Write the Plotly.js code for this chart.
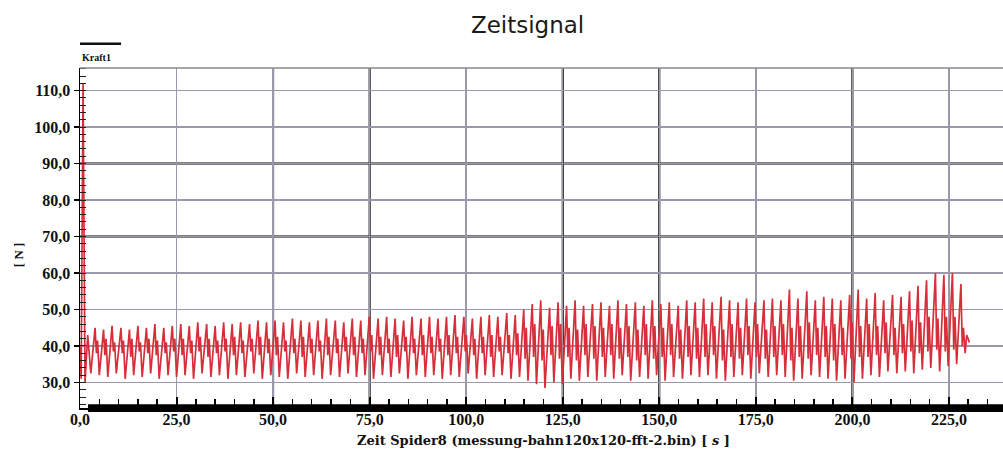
<!DOCTYPE html>
<html>
<head>
<meta charset="utf-8">
<script src="https://cdn.plot.ly/plotly-3.0.1.min.js"></script>
<style>html,body{margin:0;padding:0;background:#fff;}#chart{width:1003px;height:451px;}</style>
</head>
<body>
<div id="chart"></div>
<script>
// ---- data ----
const startTimes = [0.0, 0.3, 0.8, 1.3, 2.0, 2.8];
const startValues = [40.0, 31.0, 112.0, 30.0, 43.0, 32.5];

const peakTimes = [
  3.9, 6.1, 8.3, 10.6, 12.8, 15.0, 17.2, 19.4, 21.7, 23.9,
  26.1, 28.3, 30.5, 32.8, 35.0, 37.2, 39.4, 41.6, 43.9, 46.1,
  48.3, 50.5, 52.7, 55.0, 57.2, 59.4, 61.6, 63.8, 66.1, 68.3,
  70.5, 72.7, 74.9, 77.2, 79.4, 81.6, 83.8, 86.0, 88.3, 90.5,
  92.7, 94.9, 97.1, 99.4, 101.6, 103.8, 106.0, 108.2, 110.5, 112.7,
  114.9, 117.1, 119.3, 121.6, 123.8, 126.0, 128.2, 130.4, 132.7, 134.9,
  137.1, 139.3, 141.5, 143.8, 146.0, 148.2, 150.4, 152.6, 154.9, 157.1,
  159.3, 161.5, 163.7, 166.0, 168.2, 170.4, 172.6, 174.8, 177.1, 179.3,
  181.5, 183.7, 185.9, 188.2, 190.4, 192.6, 194.8, 197.0, 199.3, 201.5,
  203.7, 205.9, 208.1, 210.4, 212.6, 214.8, 217.0, 219.2, 221.5, 223.7,
  225.9, 228.1
];
const peakValues = [
  45, 44.5, 45.5, 45, 44.5, 45.5, 45, 46, 45, 45.5,
  46, 45.5, 46.5, 46, 45.5, 46.5, 46, 46.5, 46, 47,
  46.5, 47, 46.5, 47.5, 47, 46.5, 47, 47.5, 47, 46.5,
  47.5, 47, 48, 47.5, 48, 47.5, 47, 48, 47.5, 48,
  47.5, 48, 48.5, 48, 47.5, 48, 48.5, 48, 49, 48.5,
  50, 51.5, 52.5, 50.5, 52, 51, 52.5, 51, 51.5, 52,
  51, 52.5, 51.5, 52, 51, 52.5, 51.5, 52, 51, 52.5,
  52, 53, 52, 53.5, 52.5, 52, 53, 52, 52.5, 53,
  52.5, 55.5, 53, 55, 52.5, 53.5, 53, 52.5, 54, 55.5,
  53, 54.5, 52.5, 54, 53.5, 55, 56.5, 58, 60, 59.5,
  60, 57
];
// short dip and bump that follow each peak (the dense band between 35 and 46)
const dipValues = [
  38, 37.5, 38.5, 38, 37, 38.5, 38, 37.5, 38, 38.5,
  37.5, 38, 38.5, 37, 38, 38.5, 37.5, 38, 38.5, 37.5,
  38, 37.5, 38.5, 38, 37, 38, 38.5, 37.5, 38, 38.5,
  37.5, 38, 38.5, 37.5, 38, 37, 38.5, 38, 37.5, 38,
  38.5, 37.5, 38, 38.5, 37.5, 38, 37, 38.5, 38, 37.5,
  36.5, 37, 36, 37.5, 36.5, 37, 36, 37.5, 36.5, 37,
  37.5, 36.5, 37, 36, 37.5, 36.5, 37, 37.5, 36.5, 37,
  36.5, 37, 37.5, 36, 37, 36.5, 37.5, 37, 36.5, 37,
  37.5, 36, 37, 36.5, 37.5, 37, 36, 37.5, 36.5, 37,
  37, 37.5, 38, 37.5, 38, 38.5, 38, 38.5, 39, 38.5,
  39, 40
];
const bumpValues = [
  41.5, 42, 41, 41.5, 42, 41, 42, 41.5, 41, 42,
  42, 41.5, 42.5, 42, 41.5, 42, 42.5, 41.5, 42, 42.5,
  42, 42.5, 41.5, 42, 42.5, 42, 41.5, 42.5, 42, 42.5,
  42.5, 42, 43, 42.5, 42, 43, 42.5, 42, 43, 42.5,
  42, 43, 42.5, 43, 42, 42.5, 43, 42.5, 43, 43.5,
  45, 46, 44.5, 45.5, 46, 45, 44.5, 46, 45.5, 45,
  46, 45, 45.5, 44.5, 46, 45.5, 45, 46, 44.5, 45.5,
  45, 46, 45.5, 44.5, 46, 45, 45.5, 46, 44.5, 45.5,
  46, 45, 45.5, 46.5, 45, 45.5, 46, 45, 46.5, 45.5,
  46, 45.5, 46.5, 45, 46, 47, 46.5, 48, 47.5, 48,
  48, 45
];
const troughValues = [
  32, 31.5, 32.5, 31, 32, 31.5, 32.5, 31, 32, 31.5,
  32, 31, 32.5, 31.5, 32, 31, 32, 31.5, 32.5, 31,
  32, 31.5, 31, 32.5, 31.5, 32, 31, 32, 31.5, 32.5,
  31.5, 32, 31, 32, 31.5, 32.5, 31, 32, 31.5, 32,
  31, 32, 31.5, 32.5, 31, 32, 31.5, 32, 31, 31.5,
  30.5, 29.5, 28.5, 30, 29.5, 31, 30.5, 31.5, 30.5, 31.5,
  31, 32, 30.5, 31.5, 31, 32, 30.5, 31.5, 31, 32,
  31.5, 32, 31, 30.5, 31.5, 32, 31, 32.5, 31.5, 32,
  31.5, 30.5, 31, 32, 31.5, 31, 30.5, 31, 30, 31,
  32, 31.5, 33, 32.5, 33, 32.5, 33.5, 34, 33, 34.5,
  35, 38
];
// offsets (s) of dip, bump and trough after each peak
const dipLag = 0.35, bumpLag = 0.65, troughLag = 1.1;
const endTimes = [229.6, 230.3];
const endValues = [43.0, 41.0];

const xTickVals = [0, 25, 50, 75, 100, 125, 150, 175, 200, 225];
const yTickVals = [30, 40, 50, 60, 70, 80, 90, 100, 110];
// grid lines that are printed black in the reference (the others are grey)
const blackGridX = [50, 75, 125, 150, 200];
const blackGridY = [40, 60, 70, 90];

// ---- build the trace ----
const t = startTimes.slice();
const v = startValues.slice();
for (let i = 0; i < peakTimes.length; i++) {
  t.push(peakTimes[i]); v.push(peakValues[i]);
  t.push(peakTimes[i] + dipLag); v.push(dipValues[i]);
  t.push(peakTimes[i] + bumpLag); v.push(bumpValues[i]);
  t.push(peakTimes[i] + troughLag); v.push(troughValues[i]);
}
endTimes.forEach((x, i) => { t.push(x); v.push(endValues[i]); });

const serif = 'Liberation Serif, Times New Roman, serif';
const wideSerif = 'DejaVu Serif, serif';

const trace = {
  x: t, y: v, type: 'scatter', mode: 'lines',
  line: {color: '#d62f3a', width: 1.7},
  name: 'Kraft1', showlegend: false, hoverinfo: 'skip'
};

const shapes = [];
blackGridX.forEach(x => shapes.push({type: 'line', layer: 'between', xref: 'x', yref: 'paper',
  x0: x, x1: x, y0: 0, y1: 1, line: {color: '#000000', width: 2}}));
blackGridY.forEach(y => shapes.push({type: 'line', layer: 'between', xref: 'paper', yref: 'y',
  x0: 0, x1: 1, y0: y, y1: y, line: {color: '#000000', width: 2}}));
// top frame line
shapes.push({type: 'line', xref: 'paper', yref: 'paper', x0: 0, x1: 1, y0: 1, y1: 1,
  line: {color: '#8a8a8a', width: 1.5}});
// thick black bottom bar
shapes.push({type: 'rect', xref: 'paper', yref: 'paper', x0: 0.0087, x1: 1, y0: -0.012, y1: 0.011,
  line: {width: 0}, fillcolor: '#000'});
// legend line above "Kraft1"
shapes.push({type: 'line', xref: 'paper', yref: 'paper', x0: 0, x1: 0.0445, y0: 1.071, y1: 1.071,
  line: {color: '#111', width: 2.5}});

const layout = {
  width: 1003, height: 451,
  margin: {l: 80, r: 0, t: 68, b: 43},
  paper_bgcolor: '#ffffff', plot_bgcolor: '#ffffff',
  separators: ',.',
  showlegend: false,
  title: {
    text: 'Zeitsignal', xref: 'container', x: 0.526, xanchor: 'center',
    yref: 'container', y: 0.944, yanchor: 'middle',
    font: {family: 'DejaVu Sans, Liberation Sans, sans-serif', size: 23, color: '#1a1a1a'}
  },
  xaxis: {
    range: [0, 239], tickvals: xTickVals, tickformat: '.1f',
    showgrid: true, gridcolor: '#9c98aa', gridwidth: 1.5,
    showline: true, linecolor: '#000', linewidth: 1.5,
    ticks: 'inside', ticklen: 11, tickwidth: 2, tickcolor: '#000',
    ticklabelstandoff: -4,
    minor: {dtick: 5, tick0: 0, ticks: 'inside', ticklen: 9, tickwidth: 1.5, tickcolor: '#000', showgrid: false},
    tickfont: {family: serif, size: 16, color: '#111', weight: 'bold'},
    zeroline: false, fixedrange: true
  },
  yaxis: {
    range: [23, 116.2], tickvals: yTickVals, tickformat: '.1f',
    showgrid: true, gridcolor: '#9c98aa', gridwidth: 1.5,
    showline: true, linecolor: '#000', linewidth: 1.5,
    ticks: 'outside', ticklen: 5, tickwidth: 1.5, tickcolor: '#000',
    minor: {dtick: 2, tick0: 0, ticks: 'inside', ticklen: 6, tickwidth: 1, tickcolor: '#222', showgrid: false},
    tickfont: {family: serif, size: 16, color: '#111', weight: 'bold'},
    zeroline: false, fixedrange: true
  },
  shapes: shapes,
  annotations: [
    {text: 'Kraft1', xref: 'paper', yref: 'paper', x: 0, y: 1.03, xanchor: 'left', yanchor: 'middle',
     showarrow: false, font: {family: serif, size: 10, color: '#111', weight: 'bold'}},
    {text: '[ N ]', xref: 'paper', yref: 'paper', x: -0.067, y: 0.45, xanchor: 'center', yanchor: 'middle',
     textangle: -90, showarrow: false, font: {family: serif, size: 13, color: '#111', weight: 'bold'}},
    {text: 'Zeit Spider8 (messung-bahn120x120-fft-2.bin) [ <i>s</i> ]', xref: 'paper', yref: 'paper',
     x: 0.502, y: -0.097, xanchor: 'center', yanchor: 'middle', showarrow: false,
     font: {family: wideSerif, size: 13, color: '#111', weight: 'bold'}}
  ]
};

Plotly.newPlot('chart', [trace], layout, {displayModeBar: false, staticPlot: true});
</script>
</body>
</html>
